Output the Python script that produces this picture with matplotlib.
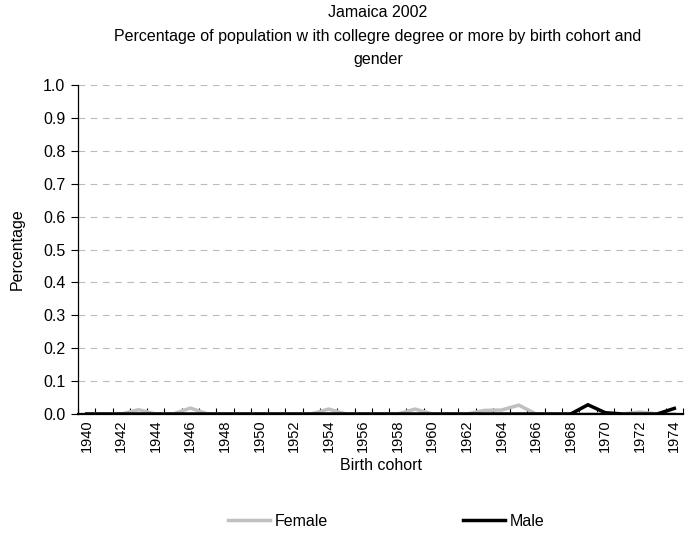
import matplotlib
matplotlib.use("Agg")
import matplotlib.pyplot as plt
import numpy as np

plt.rcParams['font.family'] = ['Liberation Sans', 'DejaVu Sans']

years = list(range(1940, 1975))
female = [0, 0, 0, 0.013, 0, 0, 0.018, 0, 0, 0,
          0, 0, 0, 0, 0.015, 0, 0, 0, 0, 0.015,
          0, 0, 0, 0.011, 0.012, 0.027, 0, 0, 0, 0,
          0, 0, 0.006, 0, 0]
male = [0, 0, 0, 0, 0, 0, 0, 0, 0, 0,
        0, 0, 0, 0, 0, 0, 0, 0, 0, 0,
        0, 0, 0, 0, 0, 0, 0, 0, 0, 0.028,
        0.004, 0, 0, 0, 0.017]
yticks = [0.0, 0.1, 0.2, 0.3, 0.4, 0.5, 0.6, 0.7, 0.8, 0.9, 1.0]
title = "Jamaica 2002\nPercentage of population w ith collegre degree or more by birth cohort and\ngender"

FS = 11.5
W, H = 692, 533
fig = plt.figure(figsize=(W/100, H/100), dpi=100)
ax = fig.add_axes([78/W, 1-414/H, (683-78)/W, (414-85)/H])

x = np.arange(len(years))
lf, = ax.plot(x, female, color='#C0C0C0', lw=2.5, label='Female', solid_joinstyle='miter')
lm, = ax.plot(x, male, color='black', lw=2.5, label='Male', solid_joinstyle='miter')

ax.set_xlim(-0.5, len(years)-0.5)
ax.set_ylim(0, 1.0)
ax.set_yticks(yticks)
ax.set_yticklabels([f"{v:.1f}" for v in yticks], fontsize=FS)
for v in yticks[1:]:
    ax.axhline(v, color='#BBBBBB', lw=0.8, dashes=(6, 5), zorder=0)

ax.set_xticks(np.arange(len(years)+1) - 0.5, minor=False)
ax.set_xticklabels([])
ax.tick_params(axis='x', which='major', direction='in', length=4, width=0.8)
ax.set_xticks(x[::2], minor=True)
ax.set_xticklabels([str(y) for y in years[::2]], minor=True, rotation=90, fontsize=10.5)
ax.tick_params(axis='x', which='minor', length=0, pad=4)
ax.tick_params(axis='y', direction='out', length=5, width=0.8, pad=4)

for s in ['top', 'right']:
    ax.spines[s].set_visible(False)
ax.spines['left'].set_linewidth(0.9)
ax.spines['bottom'].set_linewidth(1.6)

ax.set_xlabel('Birth cohort', fontsize=FS, va='center')
ax.xaxis.set_label_coords(0.5, (414-465)/329)
ax.set_ylabel('Percentage', fontsize=FS, va='center')
ax.yaxis.set_label_coords((17-78)/605, 0.5)
fig.text(378/W, 1-5/H, title, ha='center', va='top', fontsize=FS, linespacing=1.72)

ly = 1 - 521/H
fig.legend(handles=[lf], loc='center left', bbox_to_anchor=(228/W, ly), borderaxespad=0,
           borderpad=0, frameon=False, fontsize=FS, handlelength=2.6, handletextpad=0.3)
fig.legend(handles=[lm], loc='center left', bbox_to_anchor=(463/W, ly), borderaxespad=0,
           borderpad=0, frameon=False, fontsize=FS, handlelength=2.6, handletextpad=0.3)

fig.savefig('out.png', dpi=100)
